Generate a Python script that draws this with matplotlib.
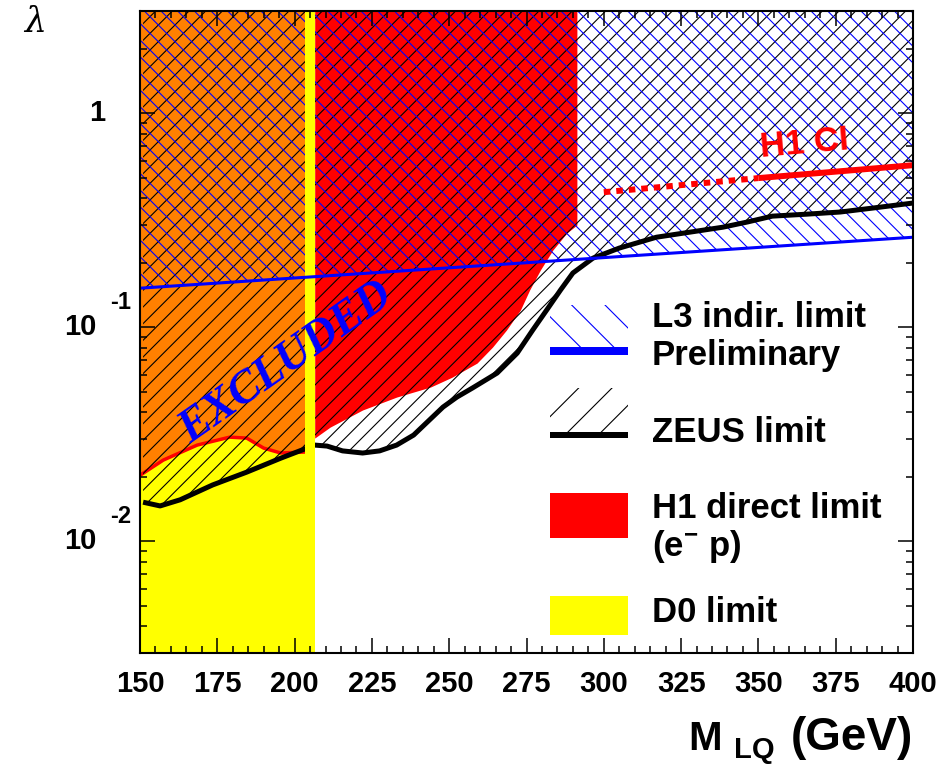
import numpy as np
import matplotlib
matplotlib.use('Agg')
import matplotlib.pyplot as plt
import matplotlib.patches as mpatches
from matplotlib.ticker import MultipleLocator, LogLocator, NullFormatter, FixedLocator
from matplotlib.transforms import offset_copy

FIG_W, FIG_H = 953, 765

plt.rcParams['font.family'] = ['Liberation Sans', 'DejaVu Sans']
plt.rcParams['font.weight'] = 'bold'
plt.rcParams['mathtext.fontset'] = 'custom'
plt.rcParams['mathtext.rm'] = 'Liberation Sans:bold'
plt.rcParams['mathtext.bf'] = 'Liberation Sans:bold'
plt.rcParams['hatch.linewidth'] = 0.8

# limits: leptoquark mass (GeV) vs coupling lambda
l3_mass = [150, 400]
l3_lambda = [0.152, 0.263]

zeus_mass = [151, 156.5, 163, 173.5, 184.5, 195.5, 204, 206.5, 210.5, 215.5, 222, 227.5,
             233, 238.5, 248, 252.5, 257.5, 265.5, 272, 277, 281.5, 286, 290, 296.5, 305,
             317, 328, 338.5, 346.5, 354.5, 365.5, 376.5, 387, 400]
zeus_lambda = [0.0152, 0.0146, 0.0156, 0.0183, 0.0210, 0.0244, 0.0272, 0.0281, 0.0278,
               0.0264, 0.0258, 0.0264, 0.0281, 0.0313, 0.0423, 0.0471, 0.0519, 0.0610,
               0.0756, 0.0968, 0.120, 0.149, 0.179, 0.210, 0.234, 0.263, 0.278, 0.293,
               0.310, 0.330, 0.337, 0.345, 0.360, 0.380]

h1_mass = [150, 157.5, 168.5, 179, 184.5, 190, 195.5, 204, 206.5, 211.5, 222, 233, 244,
           251, 259, 264, 268.5, 273, 276, 279.5, 283.5, 288, 291.3]
h1_lambda = [0.0203, 0.0239, 0.0281, 0.0306, 0.0303, 0.0272, 0.0258, 0.0261, 0.0303,
             0.0341, 0.0410, 0.0471, 0.0525, 0.0584, 0.0679, 0.0806, 0.0968, 0.120,
             0.149, 0.185, 0.229, 0.275, 0.300]

h1ci_dotted_mass = [300, 350]
h1ci_dotted_lambda = [0.427, 0.497]
h1ci_solid_mass = [350, 400]
h1ci_solid_lambda = [0.497, 0.571]

d0_mass_limit = 206.5

xticks = [150, 175, 200, 225, 250, 275, 300, 325, 350, 375, 400]
ytick_values = [0.01, 0.1, 1]
ytick_base = ['10', '10', '1']
ytick_exp = ['-2', '-1', '']

TOP = 10.0
ORANGE = '#ff8000'


def fig_pos(px, py):
    return px / FIG_W, 1 - py / FIG_H


fig = plt.figure(figsize=(FIG_W / 100, FIG_H / 100), dpi=100)
ax = fig.add_axes([140 / FIG_W, (FIG_H - 653) / FIG_H, 773 / FIG_W, 642 / FIG_H])
ax.set_yscale('log')
ax.set_xlim(150, 400)
ax.set_ylim(0.003, 3)

h1_m = np.array(h1_mass)
h1_l = np.array(h1_lambda)
left = h1_m <= 204.5
right = h1_m >= d0_mass_limit

# D0 region
ax.axvspan(150, d0_mass_limit, color='yellow', lw=0, zorder=1)
# H1 direct: overlap with D0 in orange, alone in red
ax.fill_between(h1_m[left], h1_l[left], TOP, color=ORANGE, lw=0, zorder=2)
ax.plot(h1_m[left], h1_l[left], color='red', lw=2.5, zorder=2.5)
ax.fill_between(h1_m[right], h1_l[right], TOP, color='red', lw=0, zorder=2)

# hatched indirect limits
ax.fill_between(zeus_mass, zeus_lambda, TOP, facecolor='none', edgecolor='black',
                hatch='//', lw=0, zorder=3)
ax.fill_between(l3_mass, l3_lambda, TOP, facecolor='none', edgecolor='blue',
                hatch='\\\\', lw=0, zorder=3)
ax.plot(zeus_mass, zeus_lambda, color='black', lw=3.6, zorder=4, solid_capstyle='butt')

# D0 edge strip covers hatches and ZEUS line
ax.axvspan(d0_mass_limit - 3, d0_mass_limit, color='yellow', lw=0, zorder=5)

ax.plot(l3_mass, l3_lambda, color='blue', lw=2.2, zorder=6)
ax.plot(h1ci_dotted_mass, h1ci_dotted_lambda, color='red', lw=4.3, zorder=6,
        linestyle=(0, (1.1, 1.0)), dash_capstyle='butt')
ax.plot(h1ci_solid_mass, h1ci_solid_lambda, color='red', lw=4.3, zorder=6,
        solid_capstyle='butt')

fig.text(*fig_pos(286, 363), 'EXCLUDED', color='blue', fontsize=33,
         family='Liberation Serif', fontweight='bold', style='italic', rotation=35,
         ha='center', va='center', rotation_mode='anchor')
fig.text(*fig_pos(804, 144), 'H1 CI', color='red', fontsize=25, fontweight='bold',
         rotation=5, ha='center', va='center', rotation_mode='anchor')

# axes styling
ax.xaxis.set_major_locator(FixedLocator(xticks))
ax.xaxis.set_minor_locator(MultipleLocator(5))
ax.yaxis.set_major_locator(LogLocator(base=10))
ax.yaxis.set_minor_locator(LogLocator(base=10, subs=np.arange(2, 10)))
ax.yaxis.set_minor_formatter(NullFormatter())
ax.set_xticklabels([str(t) for t in xticks])
ax.tick_params(which='both', direction='in', top=True, right=True, width=1.1)
ax.tick_params(which='major', length=11)
ax.tick_params(which='minor', length=5)
ax.tick_params(axis='x', labelsize=21, pad=12)
ax.tick_params(axis='y', labelleft=False)
for s in ax.spines.values():
    s.set_linewidth(1.5)
    s.set_zorder(10)
ax.xaxis.set_zorder(10)
ax.yaxis.set_zorder(10)

ytrans = ax.get_yaxis_transform()
for val, base, exp in zip(ytick_values, ytick_base, ytick_exp):
    x_right = -0.045 if exp == '' else -0.056
    ax.text(x_right, val, base, transform=ytrans, ha='right', va='center', fontsize=21)
    if exp:
        ax.text(-0.039, val, exp, ha='left', va='center', fontsize=17,
                transform=offset_copy(ytrans, fig=fig, x=0, y=25, units='dots'))

# axis titles
fig.text(*fig_pos(35, 22), '\u03bb', family='DejaVu Serif', style='italic',
         fontweight='normal', fontsize=25, ha='center', va='center')
fig.text(*fig_pos(688, 750), 'M', fontsize=29, ha='left', va='baseline')
fig.text(*fig_pos(734, 758), 'LQ', fontsize=21, ha='left', va='baseline')
fig.text(*fig_pos(913, 750), '(GeV)', fontsize=33, ha='right', va='baseline')

# legend
def legend_box(px0, py_top, py_bot, **kw):
    x0, y0 = fig_pos(px0, py_bot)
    rect = mpatches.Rectangle((x0, y0), 78 / FIG_W, (py_bot - py_top) / FIG_H,
                              transform=fig.transFigure, **kw)
    fig.add_artist(rect)

legend_box(550, 305, 347, facecolor='none', edgecolor='blue', hatch='\\', lw=0)
legend_box(550, 347, 355, facecolor='blue', lw=0)
legend_box(550, 388, 432, facecolor='none', edgecolor='black', hatch='/', lw=0)
legend_box(550, 432, 438, facecolor='black', lw=0)
legend_box(550, 493, 538, facecolor='red', lw=0)
legend_box(550, 596, 635, facecolor='yellow', lw=0)

legend_lines = [('L3 indir. limit', 327), ('Preliminary', 365), ('ZEUS limit', 442),
                ('H1 direct limit', 518), ('(e$^{-}$ p)', 556), ('D0 limit', 622)]
for txt, base_y in legend_lines:
    fig.text(*fig_pos(652, base_y), txt, fontsize=25, ha='left', va='baseline')

fig.savefig('out.png', dpi=100)
